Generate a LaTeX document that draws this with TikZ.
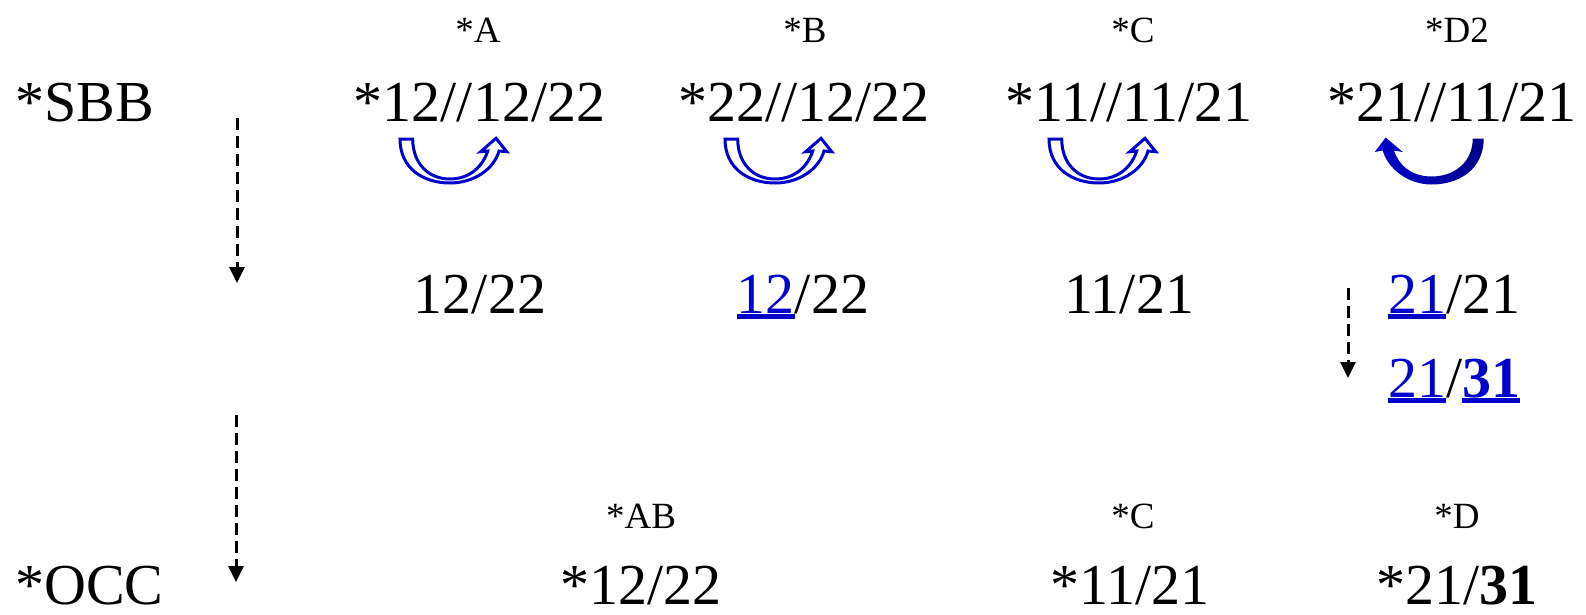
\documentclass[tikz,border=0pt]{standalone}
\usepackage{fontspec}
\setmainfont{Liberation Serif}
\usetikzlibrary{arrows.meta}
\definecolor{uablue}{RGB}{0,0,204}
\definecolor{uadark}{RGB}{0,0,140}
\newcommand\ulin[1]{\setbox0\hbox{#1}\rlap{\rule[-5.5pt]{\wd0}{4.5pt}}\box0}
\newcommand\bl[1]{\textcolor{uablue}{\ulin{#1}}}
\tikzset{
  big/.style={font=\fontsize{58}{60}\selectfont, inner sep=0pt, anchor=base},
  small/.style={font=\fontsize{37}{40}\selectfont, inner sep=0pt, anchor=base},
  dasharrow/.style={line width=3pt, dash pattern=on 12pt off 6pt, -{Triangle[length=16pt,width=15pt]}},
  hollowua/.pic={
    \draw[uablue, line width=3pt, fill=white, line join=miter]
      (-50,0) .. controls (-50,30) and (-26,44) .. (0,44)
      .. controls (24,44) and (44,30) .. (49,12)
      -- (56.7,12.7) -- (46,-0.7) -- (30.7,12.7) -- (37.7,12)
      .. controls (33,27) and (20,40) .. (0,40)
      .. controls (-22,40) and (-37.3,24) .. (-37.3,0) -- cycle;
  },
  filledua/.pic={
    \shade[left color=uablue, right color=uadark]
      (-52,0) .. controls (-52,31) and (-27,46) .. (0,46)
      .. controls (24,46) and (44,30) .. (49,12)
      -- (57,13.5) -- (46,-1) -- (29,13.5) -- (37.7,12)
      .. controls (33,27) and (20,38) .. (0,38)
      .. controls (-22,38) and (-41,24) .. (-41,0) -- cycle;
  }
}
\begin{document}
\begin{tikzpicture}[x=1pt,y=-1pt]
\useasboundingbox (0,0) rectangle (1586,614);
% column labels
\node[small] (la) at (478,42.5) {*A};
\node[small] (lb) at (805,42.5) {*B};
\node[small] (lc) at (1133,42.5) {*C};
\node[small] (ld) at (1457,42.5) {*D2};
% SBB row
\node[big, anchor=base west] (sbb) at (15,121) {*SBB};
\node[big] (sa) at (479.5,121) {*12//12/22};
\node[big] (sb) at (804,121) {*22//12/22};
\node[big] (sc) at (1129,121) {*11//11/21};
\node[big] (sd) at (1452,121) {*21//11/21};
% curved arrows
\pic at (450,139) {hollowua};
\pic at (775,139) {hollowua};
\pic at (1099,139) {hollowua};
\pic[xscale=-1] at (1431.7,138.5) {filledua};
% third row
\node[big] (ra) at (480,313) {12/22};
\node[big] (rb) at (803,313) {\bl{12}/22};
\node[big] (rc) at (1129,313) {11/21};
\node[big, anchor=base west] (rd) at (1388,313) {\bl{21}/21};
\node[big, anchor=base west] (rd2) at (1388,397) {\bl{21}/\bl{\textbf{31}}};
% bottom labels
\node[small] (oab) at (641,528) {*AB};
\node[small] (oc) at (1133,528) {*C};
\node[small] (od) at (1457,528) {*D};
% OCC row
\node[big, anchor=base west] (occ) at (15,604) {*OCC};
\node[big] (oa) at (641,604) {*12/22};
\node[big] (oc2) at (1130,604) {*11/21};
\node[big] (od2) at (1457,604) {*21/\textbf{31}};
% dashed arrows
\coordinate (d1s) at (237,118);
\coordinate (d1e) at (237,283);
\coordinate (d2s) at (236,415);
\coordinate (d2e) at (236,582);
\coordinate (d3s) at (1348,288);
\coordinate (d3e) at (1348,378);
\draw[dasharrow] (d1s) -- (d1e);
\draw[dasharrow] (d2s) -- (d2e);
\draw[dasharrow] (d3s) -- (d3e);
\end{tikzpicture}
\end{document}
